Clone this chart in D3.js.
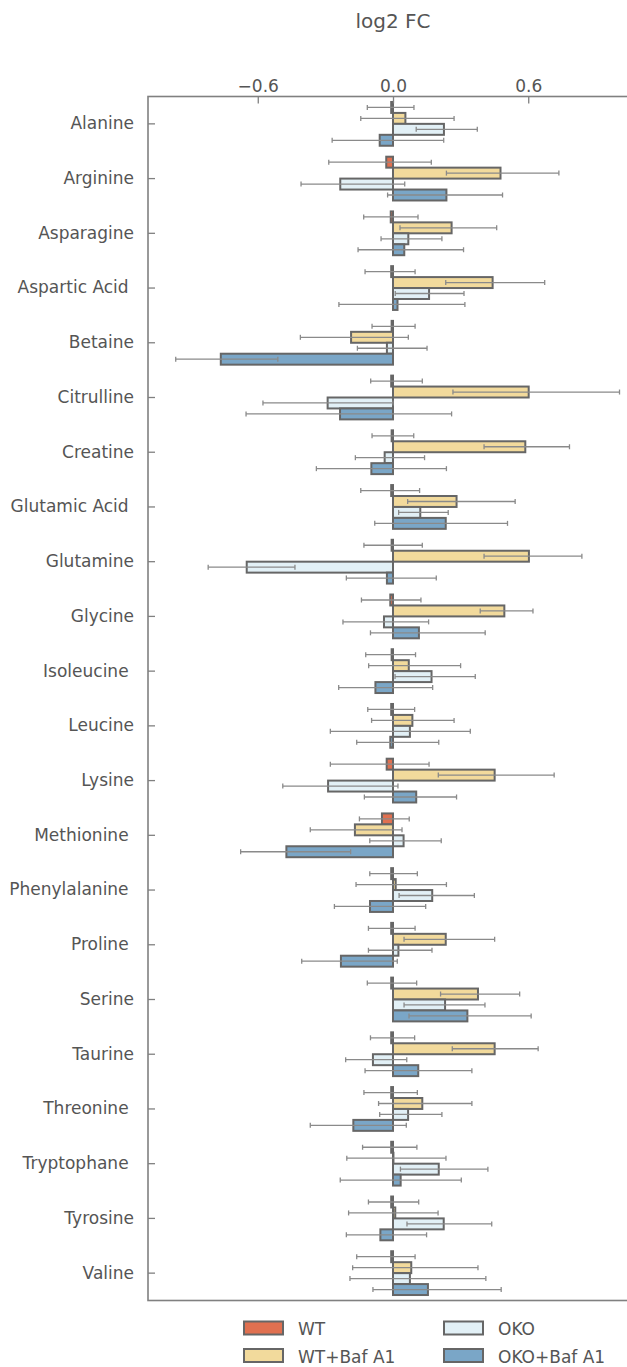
<!DOCTYPE html>
<html>
<head>
<meta charset="utf-8">
<script src="https://cdn.jsdelivr.net/npm/d3@7"></script>
<style>
  html, body { margin: 0; padding: 0; background: #fff; }
  svg { display: block; font-family: "DejaVu Sans", sans-serif; }
  .lbl { white-space: pre; }
</style>
</head>
<body>
<div id="chart"></div>
<script>
// log2 FC of amino acids, four conditions, horizontal grouped bars with error bars
const CATEGORIES = ["Alanine", "Arginine", "Asparagine", "Aspartic Acid ", "Betaine",
  "Citrulline", "Creatine", "Glutamic Acid ", "Glutamine", "Glycine", "Isoleucine ",
  "Leucine", "Lysine", "Methionine ", "Phenylalanine ", "Proline ", "Serine",
  "Taurine", "Threonine ", "Tryptophane ", "Tyrosine", "Valine"];

const SERIES = ["WT", "WT+Baf A1", "OKO", "OKO+Baf A1"];
const COLORS = ["#e07050", "#f2da9c", "#e2f0f6", "#7aa6c7"];

const X_TICKS = [-0.6, 0.0, 0.6];

// bar values (log2 FC)
const WT_VAL  = [-0.008, -0.03, -0.01, -0.008, -0.006, -0.008, -0.006, -0.008, -0.006, -0.012, -0.006,
  -0.008, -0.028, -0.049, -0.008, -0.008, -0.008, -0.008, -0.008, -0.008, -0.008, -0.008];
const WTB_VAL = [0.055, 0.477, 0.26, 0.442, -0.186, 0.602, 0.587, 0.282, 0.603, 0.494, 0.07,
  0.086, 0.451, -0.169, 0.012, 0.234, 0.377, 0.451, 0.13, 0.002, 0.01, 0.081];
const OKO_VAL = [0.226, -0.234, 0.068, 0.16, -0.027, -0.29, -0.037, 0.121, -0.649, -0.04, 0.171,
  0.075, -0.288, 0.047, 0.174, 0.024, 0.231, -0.089, 0.067, 0.203, 0.225, 0.075];
const OKOB_VAL = [-0.059, 0.237, 0.05, 0.02, -0.764, -0.235, -0.096, 0.234, -0.027, 0.115, -0.078,
  -0.012, 0.103, -0.473, -0.102, -0.231, 0.33, 0.112, -0.176, 0.034, -0.056, 0.155];

// error bar ends (low / high)
const WT_LO  = [-0.114, -0.285, -0.13, -0.124, -0.093, -0.099, -0.093, -0.143, -0.129, -0.14, -0.121,
  -0.112, -0.278, -0.149, -0.103, -0.109, -0.114, -0.1, -0.129, -0.135, -0.109, -0.161];
const WT_HI  = [0.093, 0.17, 0.111, 0.098, 0.098, 0.13, 0.092, 0.118, 0.13, 0.124, 0.1,
  0.096, 0.16, 0.072, 0.108, 0.098, 0.105, 0.096, 0.108, 0.106, 0.114, 0.098];
const WTB_LO = [-0.143, 0.237, 0.031, 0.234, -0.411, 0.266, 0.404, 0.065, 0.404, 0.387, -0.108,
  -0.095, 0.201, -0.367, -0.164, 0.049, 0.211, 0.263, -0.064, -0.205, -0.197, -0.179];
const WTB_HI = [0.271, 0.736, 0.46, 0.673, 0.068, 1.005, 0.783, 0.542, 0.838, 0.621, 0.3,
  0.271, 0.715, 0.04, 0.237, 0.451, 0.562, 0.644, 0.35, 0.235, 0.2, 0.377];
const OKO_LO = [0.103, -0.408, -0.053, 0.01, -0.158, -0.577, -0.167, 0.025, -0.82, -0.222, 0.009,
  -0.278, -0.489, -0.103, 0.027, -0.109, 0.049, -0.21, -0.059, 0.033, 0.062, -0.191];
const OKO_HI = [0.374, 0.052, 0.217, 0.315, 0.151, 0.0, 0.14, 0.245, -0.435, 0.158, 0.365,
  0.343, 0.022, 0.214, 0.361, 0.173, 0.408, 0.061, 0.217, 0.421, 0.438, 0.412];
const OKOB_LO = [-0.27, -0.024, -0.155, -0.24, -0.964, -0.652, -0.34, -0.081, -0.207, -0.1, -0.241,
  -0.161, -0.127, -0.676, -0.26, -0.405, 0.071, -0.124, -0.367, -0.234, -0.207, -0.089];
const OKOB_HI = [0.225, 0.486, 0.313, 0.319, -0.511, 0.26, 0.237, 0.508, 0.192, 0.409, 0.176,
  0.203, 0.282, -0.188, 0.145, 0.019, 0.613, 0.35, 0.059, 0.303, 0.149, 0.48];

const VALUES = [WT_VAL, WTB_VAL, OKO_VAL, OKOB_VAL];
const LOWS   = [WT_LO, WTB_LO, OKO_LO, OKOB_LO];
const HIGHS  = [WT_HI, WTB_HI, OKO_HI, OKOB_HI];

(function () {
  const W = 627, H = 1367;
  const left = 148, right = 638, top = 96.5, bottom = 1300.5;
  const TEXT = "#555";
  const SPINE = "#808080";

  const svg = d3.select("#chart").append("svg")
    .attr("width", W).attr("height", H);

  const x = d3.scaleLinear().domain([-1.087, 1.087]).range([left, right]);
  const y = d3.scaleBand().domain(CATEGORIES).range([top, bottom]).padding(0);
  const sub = d3.scaleBand().domain(SERIES)
    .range([0.1 * y.bandwidth(), 0.9 * y.bandwidth()]).padding(0);

  // bars + error bars, series by series (matplotlib order)
  SERIES.forEach(function (s, si) {
    const rows = CATEGORIES.map(function (c, i) {
      return { cat: c, v: VALUES[si][i], lo: LOWS[si][i], hi: HIGHS[si][i] };
    });
    const g = svg.append("g");
    g.selectAll("rect").data(rows).enter().append("rect")
      .attr("x", d => x(Math.min(0, d.v)))
      .attr("y", d => y(d.cat) + sub(s))
      .attr("width", d => Math.abs(x(d.v) - x(0)))
      .attr("height", sub.bandwidth())
      .attr("fill", COLORS[si])
      .attr("stroke", "#666")
      .attr("stroke-width", 2);

    const eb = g.selectAll("g.eb").data(rows).enter().append("g")
      .attr("class", "eb")
      .attr("stroke", "#8a8a8a")
      .attr("stroke-width", 1.3);
    const cy = d => y(d.cat) + sub(s) + sub.bandwidth() / 2;
    eb.append("line")
      .attr("x1", d => x(d.lo)).attr("x2", d => x(d.hi))
      .attr("y1", cy).attr("y2", cy);
    eb.append("line")
      .attr("x1", d => x(d.lo)).attr("x2", d => x(d.lo))
      .attr("y1", d => cy(d) - 2.5).attr("y2", d => cy(d) + 2.5);
    eb.append("line")
      .attr("x1", d => x(d.hi)).attr("x2", d => x(d.hi))
      .attr("y1", d => cy(d) - 2.5).attr("y2", d => cy(d) + 2.5);
  });

  // top axis, ticks pointing inward
  const xAxis = svg.append("g")
    .attr("transform", "translate(0," + top + ")")
    .call(d3.axisTop(x).tickValues(X_TICKS).tickSize(-7).tickPadding(5)
      .tickFormat(d => d3.format(".1f")(d).replace("-", "\u2212")));
  xAxis.select(".domain").remove();
  xAxis.selectAll("line").attr("stroke", SPINE).attr("stroke-width", 1.3);
  xAxis.selectAll("text").attr("fill", TEXT).attr("font-size", 17)
    .attr("font-family", "DejaVu Sans");

  // left axis, ticks pointing inward
  const yAxis = svg.append("g")
    .attr("transform", "translate(" + left + ",0)")
    .call(d3.axisLeft(y).tickSize(-7).tickPadding(14));
  yAxis.select(".domain").remove();
  yAxis.selectAll("line").attr("stroke", SPINE).attr("stroke-width", 1.3);
  yAxis.selectAll("text").attr("class", "lbl").attr("fill", TEXT).attr("font-size", 17)
    .attr("font-family", "DejaVu Sans");

  // spines (left, top, bottom; right one falls outside the picture)
  svg.append("rect")
    .attr("x", left).attr("y", top)
    .attr("width", right - left).attr("height", bottom - top)
    .attr("fill", "none").attr("stroke", SPINE).attr("stroke-width", 1.6);

  // axis label on top
  svg.append("text")
    .attr("x", (left + right) / 2).attr("y", 28)
    .attr("text-anchor", "middle")
    .attr("fill", TEXT).attr("font-size", 20)
    .text("log2 FC");

  // legend, two columns, no frame
  const legPos = [[244, 1321.5], [244, 1349], [444, 1321.5], [444, 1349]];
  SERIES.forEach(function (s, i) {
    const g = svg.append("g").attr("transform", "translate(" + legPos[i][0] + "," + legPos[i][1] + ")");
    g.append("rect").attr("width", 39).attr("height", 13)
      .attr("fill", COLORS[i]).attr("stroke", "#666").attr("stroke-width", 2);
    g.append("text").attr("x", 54).attr("y", 13.5)
      .attr("fill", TEXT).attr("font-size", 17).text(s);
  });
})();
</script>
</body>
</html>
